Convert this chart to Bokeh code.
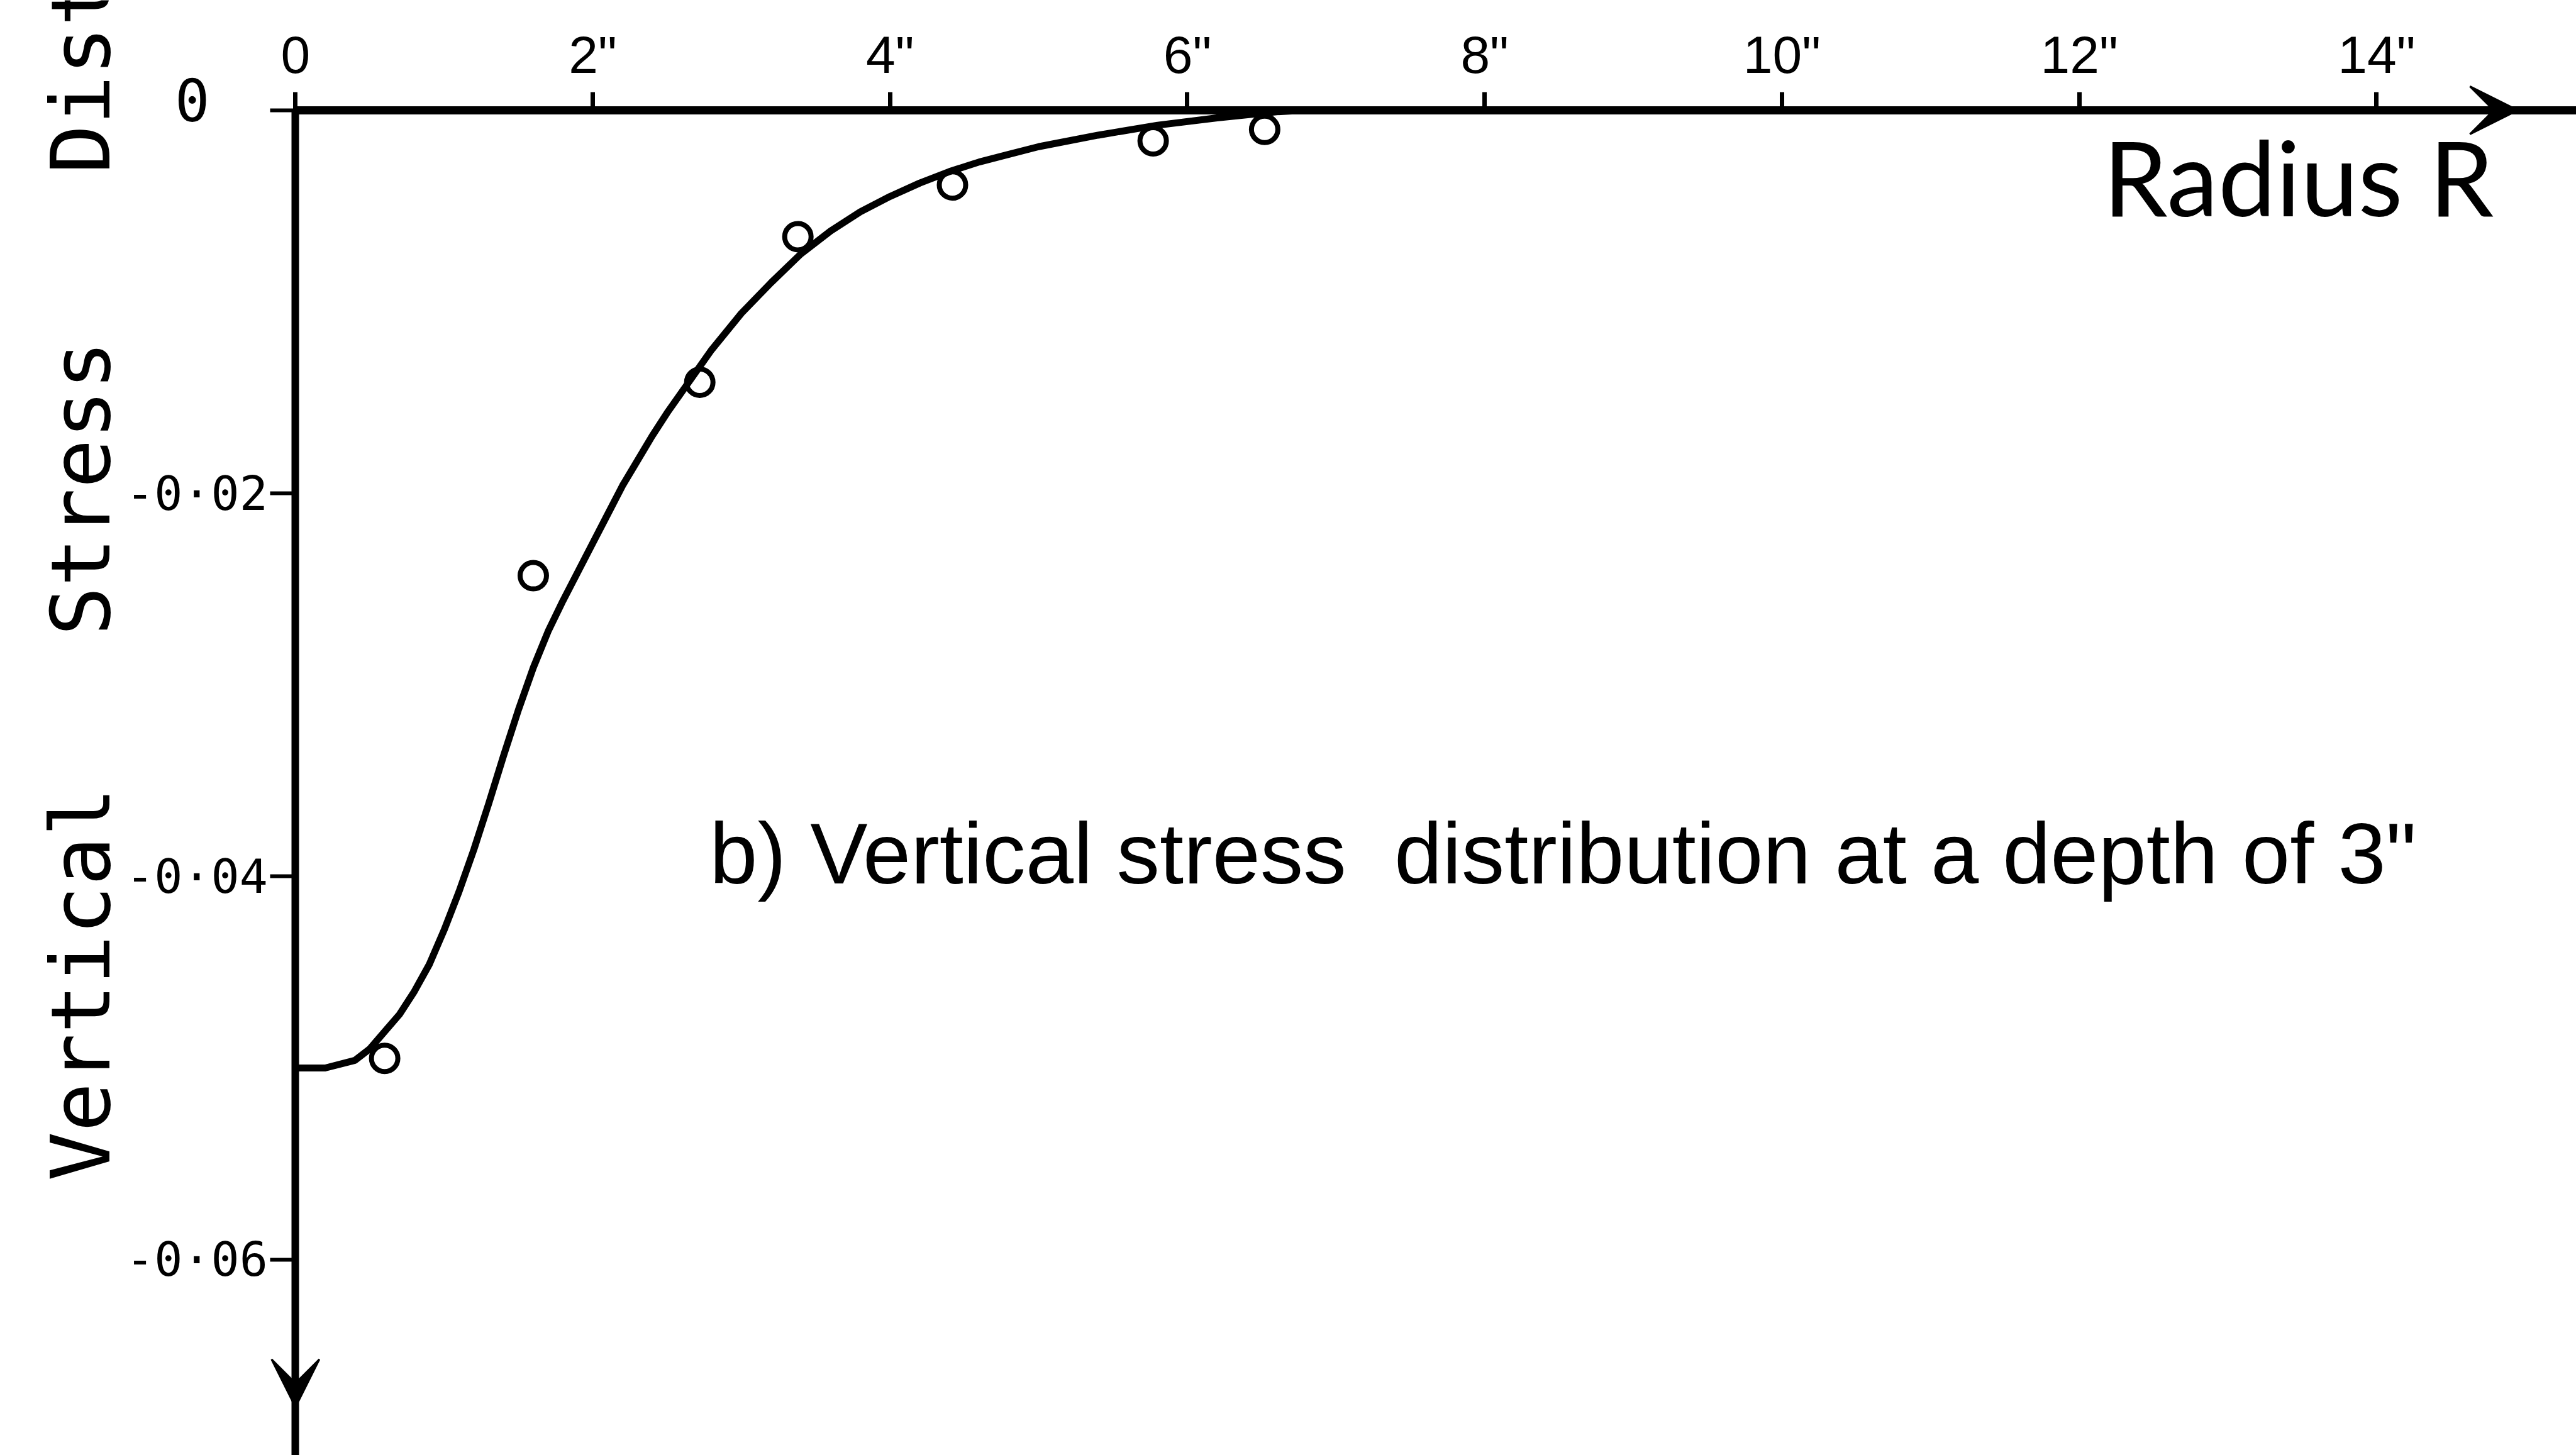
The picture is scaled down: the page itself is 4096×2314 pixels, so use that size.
import math
from bokeh.plotting import figure
from bokeh.models import Range1d, FixedTicker, Label, Arrow, VeeHead, LinearAxis
from bokeh.embed import file_html
from bokeh.resources import INLINE

# Radius axis (inches) ticks and labels
r_ticks = [0, 2, 4, 6, 8, 10, 12, 14]
r_tick_labels = ['0', '2"', '4"', '6"', '8"', '10"', '12"', '14"']

# Vertical stress axis ticks and labels (0 is written separately)
stress_ticks = [0.0, -0.02, -0.04, -0.06]
stress_tick_labels = ['', '-0·02', '-0·04', '-0·06']

# Measured vertical stress at a depth of 3"
meas_r = [0.60, 1.60, 2.72, 3.38, 4.42, 5.77, 6.52]
meas_stress = [-0.0495, -0.0243, -0.0142, -0.0066, -0.0039, -0.0016, -0.0010]

# Faired curve through the measurements
curve_r = [0.0, 0.2, 0.4, 0.5, 0.6, 0.7, 0.8, 0.9, 1.0, 1.1,
           1.2, 1.3, 1.4, 1.5, 1.6, 1.7, 1.8, 1.9, 2.0, 2.1,
           2.2, 2.3, 2.4, 2.5, 2.6, 2.8, 3.0, 3.2, 3.4, 3.6,
           3.8, 4.0, 4.2, 4.4, 4.6, 4.8, 5.0, 5.4, 5.8, 6.2,
           6.6, 6.8]
curve_stress = [-0.0500, -0.0500, -0.0496, -0.0490, -0.0481, -0.0472, -0.0460, -0.0446, -0.0428, -0.0408,
                -0.0386, -0.0362, -0.0337, -0.0313, -0.0291, -0.0272, -0.0256, -0.0241, -0.0226, -0.0211,
                -0.0196, -0.0183, -0.0170, -0.0158, -0.0147, -0.0125, -0.0106, -0.0090, -0.0075, -0.0063,
                -0.0053, -0.0045, -0.0038, -0.0032, -0.0027, -0.0023, -0.0019, -0.0013, -0.00078, -0.00040,
                -0.00008, 0.0]

title_text = 'b) Vertical stress\u00a0\u00a0distribution at a depth of 3"'
y_title_words = ['Vertical', 'Stress', 'Distribution']
y_title_starts = [-0.0559, -0.02744, -0.00332]   # where each word begins along the stress axis
x_title_text = 'Radius R'

HAND = "Liberation Sans Narrow, Liberation Sans"
STENCIL = "DejaVu Sans Mono"

R_MIN, R_MAX = -1.9855, 15.344
S_MIN, S_MAX = -0.07022, 0.00574

p = figure(width=4096, height=2314, output_backend="svg", toolbar_location=None,
           x_range=Range1d(R_MIN, R_MAX), y_range=Range1d(S_MIN, S_MAX),
           x_axis_location=None, y_axis_location=None, min_border=0)
p.grid.visible = False
p.outline_line_color = None
p.background_fill_color = "white"
p.border_fill_color = "white"

# Radius axis drawn along zero stress
xa = LinearAxis(fixed_location=0, bounds=(0, R_MAX))
xa.ticker = FixedTicker(ticks=r_ticks)
xa.major_label_overrides = {t: s for t, s in zip(r_ticks, r_tick_labels)}
xa.axis_line_width = 13
xa.axis_line_color = "black"
xa.major_tick_line_width = 7
xa.major_tick_line_color = "black"
xa.major_tick_out = 29
xa.major_tick_in = 6
xa.minor_tick_out = 0
xa.minor_tick_in = 0
xa.major_label_standoff = 12
xa.major_label_text_font = HAND
xa.major_label_text_font_size = "84px"
xa.major_label_text_color = "black"
p.add_layout(xa, "above")

# Stress axis drawn along zero radius
ya = LinearAxis(fixed_location=0, bounds=(S_MIN, 0))
ya.ticker = FixedTicker(ticks=stress_ticks)
ya.major_label_overrides = {t: s for t, s in zip(stress_ticks, stress_tick_labels)}
ya.axis_line_width = 12
ya.axis_line_color = "black"
ya.major_tick_line_width = 6
ya.major_tick_line_color = "black"
ya.major_tick_out = 40
ya.major_tick_in = 0
ya.minor_tick_out = 0
ya.minor_tick_in = 0
ya.major_label_standoff = 4
ya.major_label_text_font = STENCIL
ya.major_label_text_font_size = "75px"
ya.major_label_text_color = "black"
p.add_layout(ya, "left")

# Faired curve and measured points
p.line(curve_r, curve_stress, line_width=11, line_color="black",
       line_join="round", line_cap="round")
p.scatter(meas_r, meas_stress, marker="circle", size=42,
          fill_color=None, line_color="black", line_width=8)

# Arrowheads on both axes
p.add_layout(Arrow(end=VeeHead(size=76, fill_color="black", line_color="black", line_width=3),
                   x_start=14.3, y_start=0.0, x_end=14.95, y_end=0.0, line_alpha=0))
p.add_layout(Arrow(end=VeeHead(size=76, fill_color="black", line_color="black", line_width=3),
                   x_start=0.0, y_start=-0.0620, x_end=0.0, y_end=-0.0677, line_alpha=0))

# Zero of the stress scale
p.add_layout(Label(x=-0.694, y=0.00054, text="0", text_align="center", text_baseline="middle",
                   text_font=STENCIL, text_font_size="92px", text_color="black"))

# Axis titles and caption
p.add_layout(Label(x=12.16, y=-0.00345, text=x_title_text, text_align="left",
                   text_baseline="alphabetic", text_font="Lato", text_font_size="164px",
                   text_color="black"))
for word, start in zip(y_title_words, y_title_starts):
    p.add_layout(Label(x=-1.442, y=start, text=word, angle=math.pi / 2,
                       text_align="left", text_baseline="alphabetic", text_font=STENCIL,
                       text_font_size="130px", text_color="black"))
p.add_layout(Label(x=2.786, y=-0.0388, text=title_text, text_align="left",
                   text_baseline="alphabetic", text_font=HAND, text_font_size="137px",
                   text_color="black"))

open("out.html", "w").write(file_html(p, INLINE))
